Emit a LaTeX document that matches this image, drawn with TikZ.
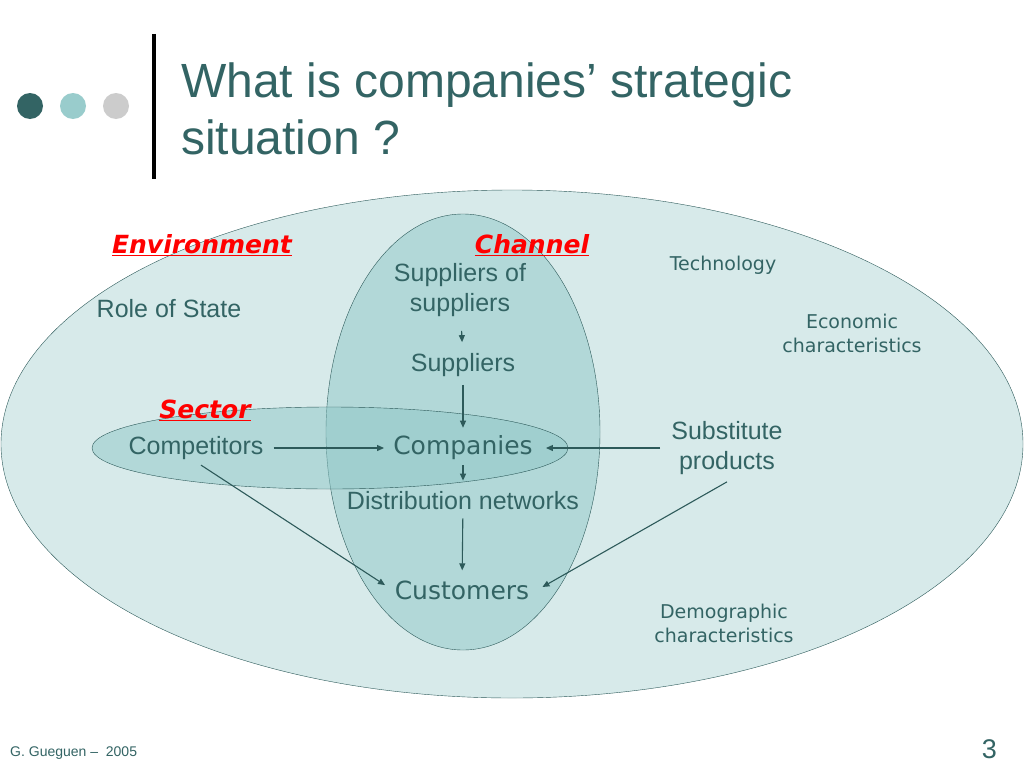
\documentclass[tikz,border=0pt]{standalone}
\usepackage{fontspec}
\setmainfont{Liberation Sans}
\newfontfamily\verdfont{DejaVu Sans}
\usetikzlibrary{positioning,arrows.meta}
\definecolor{tealtext}{RGB}{51,100,100}
\definecolor{tealline}{RGB}{45,90,90}
\definecolor{envfill}{RGB}{215,234,234}
\definecolor{chanfill}{RGB}{178,216,216}
\definecolor{sectfill}{RGB}{143,199,199}
\definecolor{dotlight}{RGB}{153,204,204}
\definecolor{dotgray}{RGB}{204,204,204}
\begin{document}
\begin{tikzpicture}[x=1pt,y=-1pt,>={Triangle[length=7pt,width=6pt]},
    txt/.style={text=tealtext,align=center,inner sep=2pt},
    big/.style={txt,font=\fontsize{25}{30}\selectfont},
    bigv/.style={txt,font=\verdfont\fontsize{25}{30}\selectfont},
    small/.style={txt,font=\verdfont\fontsize{19}{24}\selectfont},
    tag/.style={text=red,inner sep=1pt,font=\verdfont\bfseries\itshape\fontsize{25}{28}\selectfont},
    link/.style={->,tealline,line width=1.1pt}]

                    \useasboundingbox[fill=white] (0,0) rectangle (1024,768);

                    % title bar
                    \fill[tealtext] (30,106) circle (13);
                    \fill[dotlight] (73,106) circle (13);
                    \fill[dotgray] (116,106) circle (13);
                    \draw[line width=4pt] (154,34) -- (154,179);
                    \node (title) [anchor=north west,inner sep=0pt,align=left,text=tealtext,font=\fontsize{48}{57}\selectfont] at (181,63) {What is companies’ strategic\\situation ?};

                    % ellipses
                    \draw[tealline,fill=envfill] (512,444) ellipse [x radius=511,y radius=254];
                    \draw[tealline,fill=chanfill] (463,432) ellipse [x radius=137,y radius=218];
                    \draw[tealline,fill=sectfill,fill opacity=0.5] (330,448) ellipse [x radius=238,y radius=41];

                    \node (env) [tag] at (202,245) {\underline{Environment}};
                    \node (chan) [tag] at (532,245) {\underline{Channel}};
                    \node (sect) [tag] at (205,410) {\underline{Sector}};

                    \node (sos) [big] at (460,290) {Suppliers of\\suppliers};
                    \node (sup) [big] at (463,365) {Suppliers};
                    \node (comp) [bigv] at (463,448) {Companies};
                    \node (dist) [big] at (463,501) {Distribution networks};
                    \node (cust) [bigv] at (462,590) {Customers};

                    \node (compet) [big] at (196,448) {Competitors};
                    \node (subst) [big] at (727,448) {Substitute\\products};
                    \node (state) [big] at (169,309) {Role of State};

                    \node (tech) [small] at (723,265) {Technology};
                    \node (econ) [small] at (852,333) {Economic\\characteristics};
                    \node (demo) [small] at (724,623) {Demographic\\characteristics};

                    \node (foot) [anchor=base west,inner sep=0pt,text=tealtext,font=\fontsize{14}{16}\selectfont] at (10,756) {G. Gueguen --\ \ 2005};
                    \node (page) [anchor=base east,inner sep=0pt,text=tealtext,font=\fontsize{27}{30}\selectfont] at (997,758) {3};

                    \path[link]
                    (sos) edge[shorten <=12pt,shorten >=9pt] (sup)
                    (sup) edge[shorten <=6pt,shorten >=6pt] (comp)
                    (comp) edge[shorten <=3pt,shorten >=9pt] (dist)
                    (dist) edge[shorten <=6pt,shorten >=8pt] (cust)

                    (compet.east) edge[shorten <=8pt,shorten >=7pt] (comp.west)
                    ([xshift=-9pt]subst.west) edge ([xshift=11pt]comp.east)

                    (compet.south) edge[shorten <=6pt,shorten >=9pt] (cust.west)
                    ([yshift=-5pt]subst.south) edge ([shift={(11pt,3pt)}]cust.east)
                        ;
                \end{tikzpicture}
\end{document}
